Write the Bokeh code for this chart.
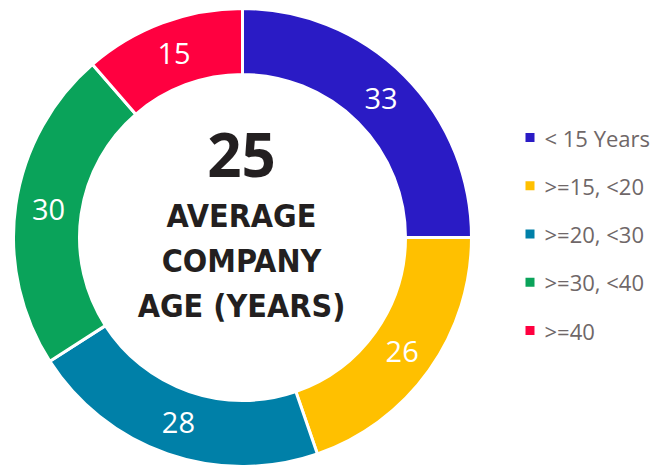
import math
from bokeh.plotting import figure
from bokeh.models import Range1d, ColumnDataSource
from bokeh.core.properties import value
from bokeh.embed import file_html
from bokeh.resources import INLINE

categories = ["< 15 Years", ">=15, <20", ">=20, <30", ">=30, <40", ">=40"]
values = [33, 26, 28, 30, 15]
colors = ["#2A1BC5", "#FFC000", "#0080A8", "#0AA35A", "#FF0040"]
center_value = "25"
center_lines = ["AVERAGE", "COMPANY", "AGE (YEARS)"]

W, H = 656, 465
cx_px, cy_px = 242, 237  # donut centre inside the figure (pixels)

p = figure(width=W, height=H, output_backend="svg", toolbar_location=None,
           x_range=Range1d(-cx_px, W - cx_px), y_range=Range1d(cy_px - H, cy_px),
           min_border=0, outline_line_color=None)
p.axis.visible = False
p.grid.visible = False
p.background_fill_color = "white"

total = sum(values)
starts, ends, mids = [], [], []
cum = 0
for v in values:
    a0 = math.pi / 2 - 2 * math.pi * cum / total
    cum += v
    a1 = math.pi / 2 - 2 * math.pi * cum / total
    starts.append(a1)
    ends.append(a0)
    mids.append((a0 + a1) / 2)

R_in, R_out = 163, 229
src = ColumnDataSource(dict(start=starts, end=ends, color=colors, cat=categories, val=values))
p.annular_wedge(x=0, y=0, inner_radius=R_in, outer_radius=R_out,
                start_angle="start", end_angle="end", fill_color="color",
                line_color="white", line_width=3, source=src)

R_lab = 196
lab = ColumnDataSource(dict(x=[R_lab * math.cos(m) for m in mids],
                            y=[R_lab * math.sin(m) for m in mids],
                            t=[str(v) for v in values]))
p.text(x="x", y="y", text="t", source=lab, text_color="white",
       text_font=value("Open Sans"), text_font_size="29px",
       text_align="center", text_baseline="middle")

# centre text
p.text(x=[-1], y=[83], text=[center_value], text_color="#231F20",
       text_font=value("Open Sans"), text_font_style="bold", text_font_size="60px",
       text_align="center", text_baseline="middle")
p.text(x=[-1, -1, -1], y=[22, -23, -68], text=center_lines, text_color="#231F20",
       text_font=value("DejaVu Sans Condensed, Roboto Condensed, Roboto"), text_font_style="bold",
       text_font_size="32px", text_align="center", text_baseline="middle")

# legend
ly = [100 - 48.25 * i for i in range(len(categories))]
p.scatter(x=[287.5] * len(categories), y=ly, marker="square", size=9,
          fill_color=colors, line_color=None)
p.text(x=[302] * len(categories), y=ly, text=categories, text_color="#6F6768",
       text_font=value("Open Sans"), text_font_size="22px",
       text_align="left", text_baseline="middle")

open("out.html", "w").write(file_html(p, INLINE))
